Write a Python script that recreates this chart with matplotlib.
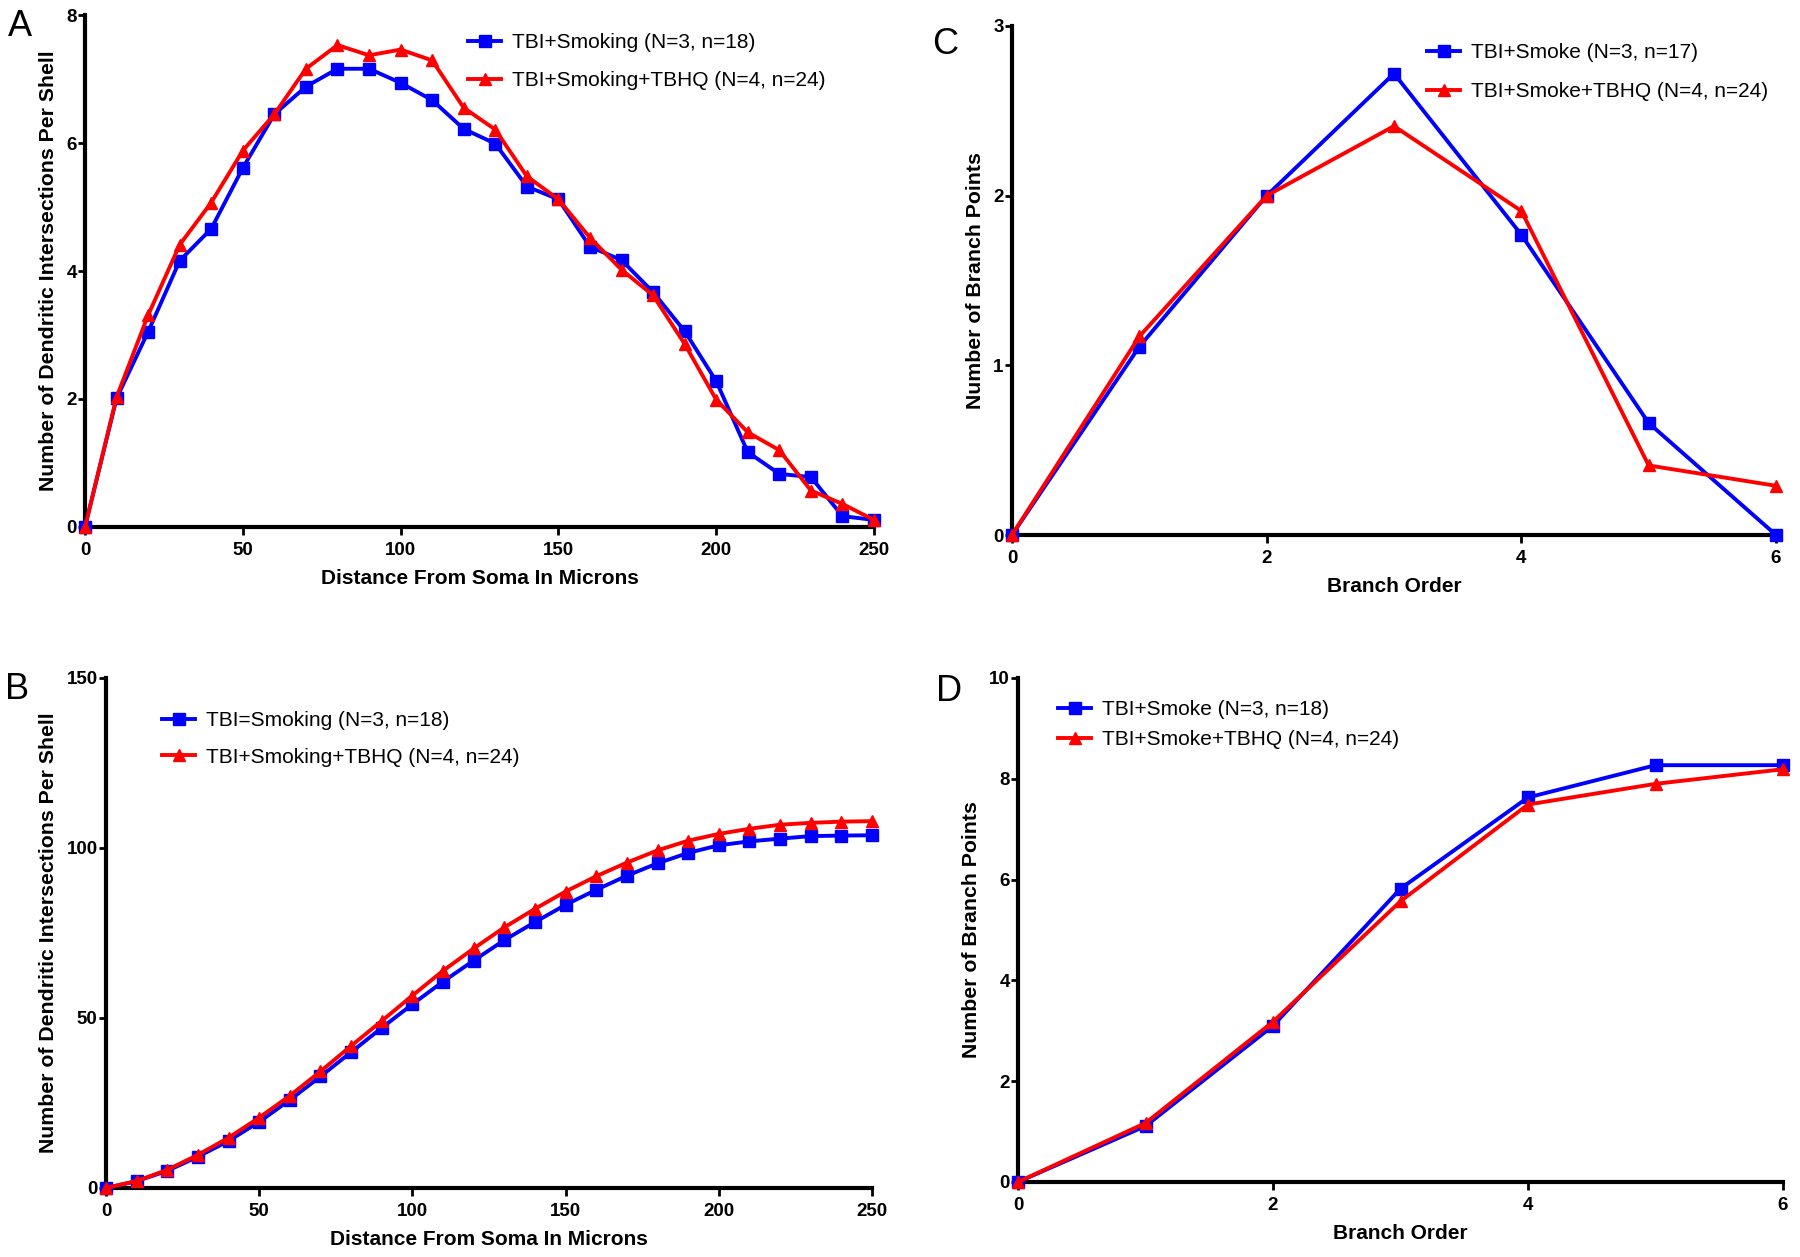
import matplotlib
matplotlib.use('Agg')
import matplotlib.pyplot as plt

# Panel A: Sholl intersections per shell
dist = [0, 10, 20, 30, 40, 50, 60, 70, 80, 90, 100, 110, 120, 130, 140, 150,
        160, 170, 180, 190, 200, 210, 220, 230, 240, 250]
a_smoking = [0, 2.01, 3.05, 4.16, 4.66, 5.61, 6.45, 6.88, 7.16, 7.16, 6.94, 6.67, 6.22,
             5.99, 5.32, 5.12, 4.38, 4.17, 3.67, 3.06, 2.28, 1.17, 0.83, 0.78, 0.17, 0.11]
a_tbhq = [0, 2.03, 3.31, 4.41, 5.07, 5.88, 6.45, 7.16, 7.53, 7.37, 7.46, 7.29, 6.55,
          6.21, 5.48, 5.12, 4.52, 4.02, 3.62, 2.86, 1.99, 1.48, 1.20, 0.57, 0.36, 0.11]

# Panel B: cumulative intersections
b_smoking = [0, 2.0, 5.05, 9.2, 13.85, 19.45, 25.9, 32.8, 39.95, 47.1, 54.05, 60.7, 66.9,
             72.9, 78.2, 83.3, 87.7, 91.85, 95.5, 98.55, 100.8, 101.95, 102.75, 103.5,
             103.65, 103.75]
b_tbhq = [0, 2.05, 5.35, 9.75, 14.8, 20.7, 27.15, 34.3, 41.8, 49.15, 56.6, 63.9, 70.45,
          76.65, 82.1, 87.2, 91.7, 95.7, 99.3, 102.15, 104.15, 105.65, 106.85, 107.4,
          107.75, 107.9]

# Panels C and D: branch points by order
order = [0, 1, 2, 3, 4, 5, 6]
c_smoke = [0, 1.11, 2.0, 2.72, 1.77, 0.66, 0.0]
c_tbhq = [0, 1.17, 2.0, 2.41, 1.91, 0.41, 0.29]
d_smoke = [0, 1.11, 3.10, 5.82, 7.63, 8.27, 8.27]
d_tbhq = [0, 1.17, 3.18, 5.57, 7.49, 7.90, 8.19]

W, H = 1800, 1257
SANS = ['Liberation Sans', 'DejaVu Sans']

fig = plt.figure(figsize=(W / 100, H / 100), dpi=100)


def make_axes(left, right, bottom, top):
    return fig.add_axes([left / W, 1 - bottom / H, (right - left) / W, (bottom - top) / H])


def style(ax, xlim, ylim, xticks, yticks, xlabel, ylabel):
    ax.set_xlim(*xlim)
    ax.set_ylim(*ylim)
    ax.set_xticks(xticks)
    ax.set_yticks(yticks)
    for s in ['top', 'right']:
        ax.spines[s].set_visible(False)
    for s in ['left', 'bottom']:
        ax.spines[s].set_linewidth(3)
    ax.tick_params(axis='x', direction='out', length=6, width=2, labelsize=13.5, pad=5)
    ax.tick_params(axis='y', direction='out', length=5, width=2, labelsize=13.5, pad=1)
    for lab in ax.get_xticklabels() + ax.get_yticklabels():
        lab.set_family(SANS)
        lab.set_fontweight('bold')
    ax.set_xlabel(xlabel, fontsize=15, fontweight='bold', family=SANS, labelpad=7)
    ax.set_ylabel(ylabel, fontsize=15.3, fontweight='bold', family=SANS, labelpad=6)


def draw(ax, x, blue, red, lab_blue, lab_red, px, py, spacing):
    ax.plot(x, blue, color='#0000ff', lw=2.8, marker='s', ms=8, label=lab_blue, clip_on=False, zorder=3)
    ax.plot(x, red, color='#ff0000', lw=2.8, marker='^', ms=8, label=lab_red, clip_on=False, zorder=4)
    ax.legend(loc='upper left', bbox_to_anchor=(px / W, 1 - py / H), bbox_transform=fig.transFigure,
              frameon=False, prop={'family': SANS, 'size': 15}, handlelength=1.6,
              labelspacing=spacing, handletextpad=0.5, borderaxespad=0, borderpad=0)


# A
axA = make_axes(85, 874, 527, 15)
draw(axA, dist, a_smoking, a_tbhq, 'TBI+Smoking (N=3, n=18)', 'TBI+Smoking+TBHQ (N=4, n=24)',
     468, 33, 0.92)
style(axA, (0, 250), (0, 8), [0, 50, 100, 150, 200, 250], [0, 2, 4, 6, 8],
      'Distance From Soma In Microns', 'Number of Dendritic Intersections Per Shell')

# C
axC = make_axes(1012, 1776, 535, 26)
draw(axC, order, c_smoke, c_tbhq, 'TBI+Smoke (N=3, n=17)', 'TBI+Smoke+TBHQ (N=4, n=24)',
     1427, 43, 0.95)
style(axC, (0, 6), (0, 3), [0, 2, 4, 6], [0, 1, 2, 3], 'Branch Order', 'Number of Branch Points')

# B
axB = make_axes(106, 872, 1188, 678)
draw(axB, dist, b_smoking, b_tbhq, 'TBI=Smoking (N=3, n=18)', 'TBI+Smoking+TBHQ (N=4, n=24)',
     162, 711, 0.85)
style(axB, (0, 250), (0, 150), [0, 50, 100, 150, 200, 250], [0, 50, 100, 150],
      'Distance From Soma In Microns', 'Number of Dendritic Intersections Per Shell')

# D
axD = make_axes(1018, 1783, 1182, 678)
draw(axD, order, d_smoke, d_tbhq, 'TBI+Smoke (N=3, n=18)', 'TBI+Smoke+TBHQ (N=4, n=24)',
     1058, 700, 0.52)
style(axD, (0, 6), (0, 10), [0, 2, 4, 6], [0, 2, 4, 6, 8, 10], 'Branch Order', 'Number of Branch Points')

# panel letters
for letter, (px, py) in zip('ABCD', [(8, 36), (5, 699), (932, 54), (936, 701)]):
    fig.text(px / W, 1 - py / H, letter, fontsize=26, family=SANS)

fig.savefig('out.png', dpi=100)
